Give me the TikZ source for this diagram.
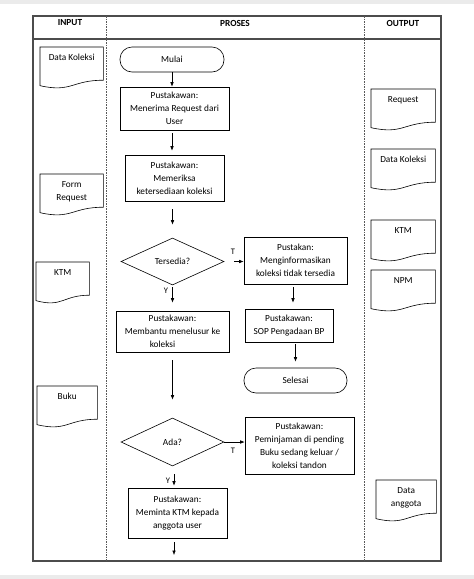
\documentclass[tikz,border=0pt]{standalone}
\usepackage{fontspec}
\setmainfont{Carlito}
\usepackage{tikz}
\usetikzlibrary{positioning,arrows.meta,shapes.geometric,calc}

\begin{document}
\begin{tikzpicture}[
  x=1pt, y=-1pt,
  >={Latex[length=4.5pt,width=3.6pt]},
  font=\fontsize{9.3}{13}\selectfont,
  lane/.style={line width=1.1pt, draw=black!70},
  divider/.style={line width=0.8pt, draw=black!65, dash pattern=on 1.6pt off 1pt},
  head/.style={font=\fontsize{9.3}{11}\selectfont\bfseries, inner sep=0pt},
  proc/.style={draw, line width=0.6pt, align=center, inner sep=1pt},
  term/.style={draw, line width=0.6pt, rounded corners=12pt, align=center, inner sep=1pt},
  decision/.style={draw, line width=0.6pt, diamond, aspect=2.2, inner sep=0pt, align=center},
  doc/.style={anchor=north west, align=center, inner sep=0pt, text height=13.5pt, text depth=27.5pt},
  doctwo/.style={doc, text height=26.5pt, text depth=14.5pt},
  arrow/.style={->, line width=0.6pt},
  branch/.style={inner sep=0pt, font=\fontsize{8.5}{10}\selectfont}
]
\useasboundingbox (0,0) rectangle (474,579);
\fill[black!8] (0,0) rectangle (474,3.5);
\fill[black!8] (0,575) rectangle (474,579);

% swimlanes
\draw[lane] (33,16) rectangle (441,561);
\draw[lane] (33,39) -- (441,39);
\draw[divider] (106,16) -- (106,561);
\draw[divider] (364,16) -- (364,561);
\node[head] (hInput) at (70,23) {INPUT};
\node[head] (hProses) at (235,23) {PROSES};
\node[head] (hOutput) at (403,23) {OUTPUT};

% input documents
\node[doc, minimum width=63pt] (inKoleksi) at (40,47) {Data Koleksi};
\node[doctwo, minimum width=63pt] (inForm) at (40,174) {Form\\Request};
\node[doc, minimum width=53pt] (inKtm) at (36,262) {KTM};
\node[doc, minimum width=60pt] (inBuku) at (37,386) {Buku};

% output documents
\node[doc, minimum width=64pt] (outRequest) at (371,89) {Request};
\node[doc, minimum width=64pt] (outKoleksi) at (371,149) {Data Koleksi};
\node[doc, minimum width=64pt] (outKtm) at (371,220) {KTM};
\node[doc, minimum width=64pt] (outNpm) at (371,270) {NPM};
\node[doctwo, minimum width=60pt] (outAnggota) at (376,480) {Data\\anggota};

\foreach \d in {inKoleksi,inForm,inKtm,inBuku,outRequest,outKoleksi,outKtm,outNpm,outAnggota}
  \draw[line width=0.6pt] (\d.north west) -- (\d.north east)
    -- ($(\d.north east)!0.802!(\d.south east)$)
    .. controls ($(\d.north)!0.802!(\d.south)$) and ($(\d.north)!1.107!(\d.south)$) ..
    ($(\d.north west)!0.934!(\d.south west)$) -- cycle;

% process
\node[term, minimum width=104pt, minimum height=25pt] (mulai) at (172,59.5) {Mulai};
\node[proc, minimum width=109pt, minimum height=43pt] (terima) at (174.5,108.5) {Pustakawan:\\Menerima Request dari\\User};
\node[proc, minimum width=99pt, minimum height=46pt] (periksa) at (174.5,178) {Pustakawan:\\Memeriksa\\ketersediaan koleksi};
\node[decision, minimum width=103pt, minimum height=47pt] (tersedia) at (172.5,261.5) {Tersedia?};
\node[proc, minimum width=103pt, minimum height=47pt] (infoTidak) at (295.5,260.5) {Pustakan:\\Menginformasikan\\koleksi tidak tersedia};
\node[proc, minimum width=113pt, minimum height=41pt] (bantu) at (172.5,331.5) {Pustakawan:\\Membantu menelusur ke\\koleksi\hspace*{20pt}};
\node[proc, minimum width=88pt, minimum height=33pt] (sop) at (289,325.5) {Pustakawan:\\SOP Pengadaan BP};
\node[term, minimum width=103pt, minimum height=25pt] (selesai) at (295.5,380.5) {Selesai};
\node[decision, minimum width=103pt, minimum height=48pt] (ada) at (172.5,442) {Ada?};
\node[proc, minimum width=109pt, minimum height=57pt] (pinjam) at (299.5,445.5) {Pustakawan:\\Peminjaman di pending\\Buku sedang keluar /\\koleksi tandon};
\node[proc, minimum width=99pt, minimum height=50pt] (minta) at (177.5,513) {Pustakawan:\\Meminta KTM kepada\\anggota user};
\coordinate (lanjut) at (174,555);

\draw[arrow] (mulai.south) -- (mulai.south |- terima.north);
\draw[arrow, shorten <=3pt, shorten >=4pt] (terima.south -| mulai) -- (periksa.north -| mulai);
\draw[arrow, shorten <=8pt, shorten >=13pt] (periksa.south -| tersedia) -- (tersedia.north);
\draw[arrow, shorten <=10pt] (tersedia.east) -- (infoTidak.west |- tersedia.east);
\node[branch] (tT) at (233,252) {T};
\draw[arrow, shorten <=2pt, shorten >=8pt] (tersedia.south) -- (tersedia.south |- bantu.north);
\node[branch] (tY) at (166,291) {Y};
\draw[arrow, shorten <=3pt, shorten >=6pt] ([xshift=-2.5pt]infoTidak.south) -- ([xshift=-2.5pt]infoTidak.south |- sop.north);
\draw[arrow, shorten <=2pt, shorten >=6pt] (sop.south -| selesai) -- (selesai.north);
\draw[arrow, shorten <=8pt, shorten >=18pt] (bantu.south) -- (bantu.south |- ada.north);
\draw[arrow] (ada.east) -- (pinjam.west |- ada.east);
\node[branch] (aT) at (233,451) {T};
\draw[arrow, shorten <=8pt, shorten >=2pt] ([xshift=1.5pt]ada.south) -- ([xshift=1.5pt]ada.south |- minta.north);
\node[branch] (aY) at (168,481) {Y};
\draw[arrow, shorten <=4pt] (minta.south -| lanjut) -- (lanjut);
\end{tikzpicture}
\end{document}
